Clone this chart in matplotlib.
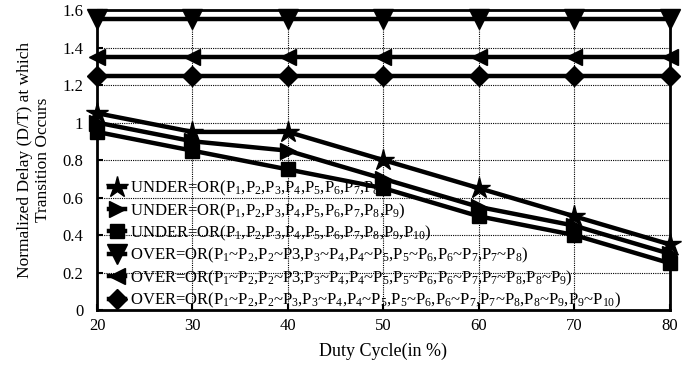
import re
import matplotlib
matplotlib.use("Agg")
import matplotlib.pyplot as plt
from matplotlib.ticker import FixedLocator, FuncFormatter

plt.rcParams['font.family'] = ['Liberation Serif', 'DejaVu Serif']
plt.rcParams['mathtext.fontset'] = 'custom'
plt.rcParams['mathtext.rm'] = 'Liberation Serif'
plt.rcParams['mathtext.it'] = 'Liberation Serif:italic'

duty = [20, 30, 40, 50, 60, 70, 80]
under_p8 = [1.05, 0.95, 0.95, 0.80, 0.65, 0.50, 0.35]
under_p9 = [1.00, 0.90, 0.85, 0.70, 0.55, 0.45, 0.30]
under_p10 = [0.95, 0.85, 0.75, 0.65, 0.50, 0.40, 0.25]
over_p8 = [1.55] * 7
over_p9 = [1.35] * 7
over_p10 = [1.25] * 7

raw_labels = [
    'UNDER=OR(P_1,P_2,P_3,P_4,P_5,P_6,P_7,P_8)',
    'UNDER=OR(P_1,P_2,P_3,P_4,P_5,P_6,P_7,P_8,P_9)',
    'UNDER=OR(P_1,P_2,P_3,P_4,P_5,P_6,P_7,P_8,P_9,P_{10})',
    'OVER=OR(P_1~P_2,P_2~P3,P_3~P_4,P_4~P_5,P_5~P_6,P_6~P_7,P_7~P_8)',
    'OVER=OR(P_1~P_2,P_2~P3,P_3~P_4,P_4~P_5,P_5~P_6,P_6~P_7,P_7~P_8,P_8~P_9)',
    'OVER=OR(P_1~P_2,P_2~P_3,P_3~P_4,P_4~P_5,P_5~P_6,P_6~P_7,P_7~P_8,P_8~P_9,P_9~P_{10})',
]


def to_math(s):
    parts = re.split(r'_(\{[^}]*\}|.)', s)
    out = ''
    for i, p in enumerate(parts):
        if i % 2 == 0:
            if p:
                out += r'\text{' + p + '}'
        else:
            sub = p.strip('{}')
            out += '_{' + sub + '}'
    return '$' + out + '$'


labels = [to_math(s) for s in raw_labels]
series = [under_p8, under_p9, under_p10, over_p8, over_p9, over_p10]
markers = ['*', '>', 's', 'v', '<', 'D']
msizes = [16, 12, 10, 14, 12, 10]

fig = plt.figure(figsize=(6.9, 3.68), dpi=100)
ax = fig.add_axes([0.1406, 0.1576, 0.830, 0.815])

for ys, m, ms, lab in zip(series, markers, msizes, labels):
    ax.plot(duty, ys, color='black', lw=3.2, marker=m, markersize=ms,
            markeredgecolor='black', markerfacecolor='black', label=lab, clip_on=False, zorder=3)

ax.set_xlim(20, 80)
ax.set_ylim(0, 1.6)
ax.xaxis.set_major_locator(FixedLocator(duty))
ax.yaxis.set_major_locator(FixedLocator([0, 0.2, 0.4, 0.6, 0.8, 1.0, 1.2, 1.4, 1.6]))
ax.yaxis.set_major_formatter(FuncFormatter(lambda v, p: f'{v:g}'))
ax.grid(True, color='black', linestyle=(0, (1, 1)), linewidth=0.8)
ax.tick_params(direction='in', labelsize=12, length=4, width=1.5)
ax.tick_params(axis='x', pad=6)
ax.tick_params(axis='y', pad=10)
for s in ax.spines.values():
    s.set_linewidth(2)

ax.set_xlabel('Duty Cycle(in %)', fontsize=13, labelpad=6)
ax.set_ylabel('Normalized Delay (D/T) at which\nTransition Occurs', fontsize=12.5, labelpad=8)

leg = ax.legend(loc='lower left', bbox_to_anchor=(0.006, -0.028), frameon=False, fontsize=12,
                handlelength=1.0, handletextpad=0.25, labelspacing=0.19, borderaxespad=0.3,
                borderpad=0.2)

fig.savefig('out.png', dpi=100)
